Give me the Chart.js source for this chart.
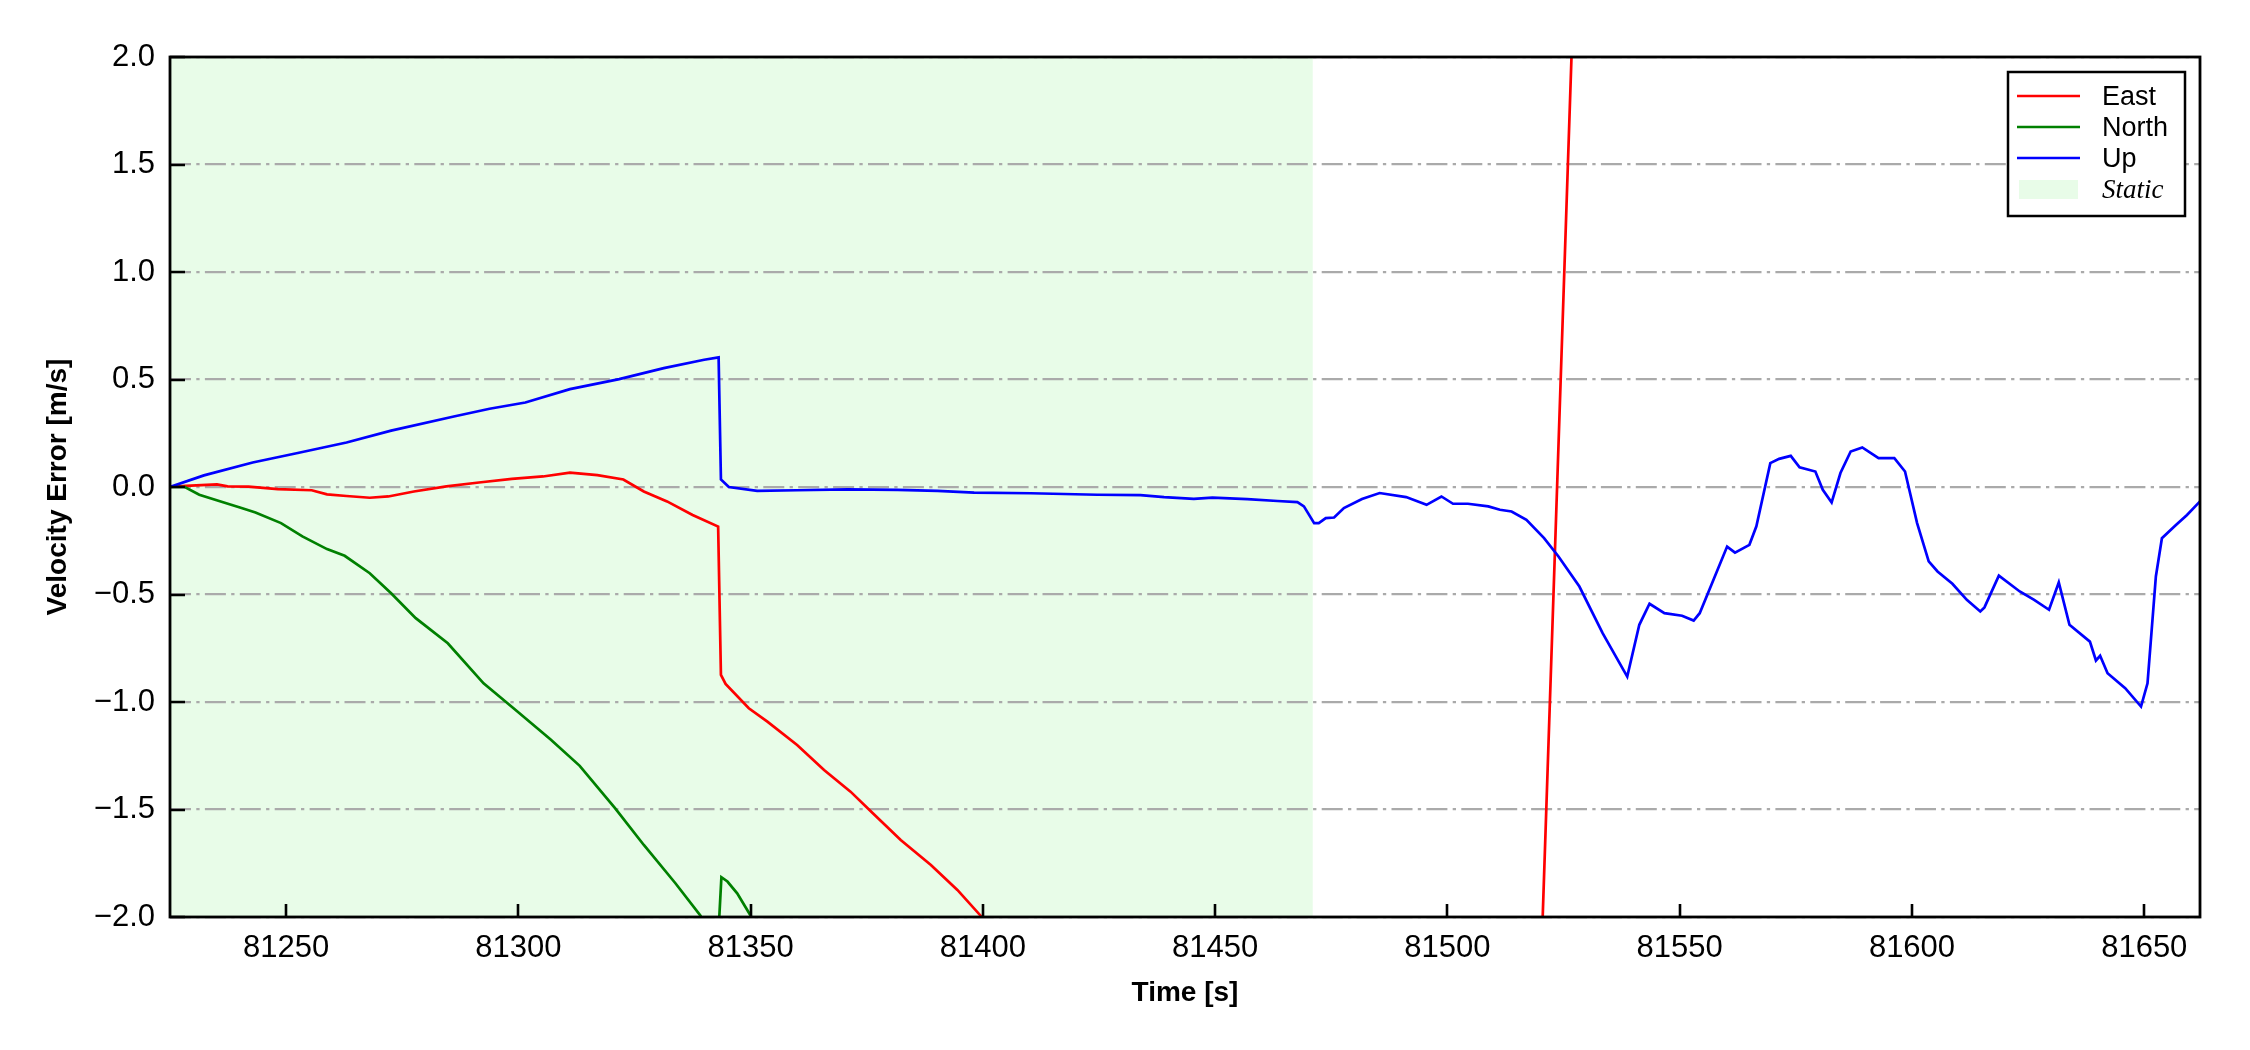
<!DOCTYPE html>
<html>
<head>
<meta charset="utf-8">
<script src="https://cdn.jsdelivr.net/npm/chart.js@4.4.0/dist/chart.umd.min.js"></script>
<style>
  html, body { margin: 0; padding: 0; background: #fff; }
  canvas { display: block; }
</style>
</head>
<body>
<canvas id="velErr" width="2250" height="1050"></canvas>
<script>
// axis layout
const xRange = [81225, 81662];
const yRange = [-2, 2];
const xTicks = [81250, 81300, 81350, 81400, 81450, 81500, 81550, 81600, 81650];
const yTicks = [-2, -1.5, -1, -0.5, 0, 0.5, 1, 1.5, 2];
const staticSpan = [81225, 81471];

// East velocity error (leaves the plot below -2 and comes back through it near 81520)
const eastT = [81225, 81228.4, 81235.1, 81237.4, 81241.9, 81248.2, 81255.5, 81258.8, 81263, 81268,
  81272, 81277.5, 81284.5, 81291.5, 81298.6, 81305.3, 81311.1, 81317, 81322.6, 81327,
  81332, 81337.5, 81343, 81343.6, 81344.6, 81349.6, 81353.6, 81360, 81365.8, 81371.5,
  81375.8, 81382.3, 81388.8, 81394.5, 81399.5, 81405, 81517.4, 81529.8];
const eastV = [0, 0.005, 0.012, 0.003, 0.002, -0.010, -0.015, -0.034, -0.042, -0.050,
  -0.044, -0.021, 0.003, 0.021, 0.038, 0.049, 0.067, 0.055, 0.035, -0.021,
  -0.067, -0.130, -0.184, -0.874, -0.916, -1.029, -1.091, -1.200, -1.316, -1.417,
  -1.507, -1.642, -1.758, -1.874, -1.994, -2.2, -4.0, 4.0];

// North velocity error
const northT = [81225, 81228.2, 81231.3, 81236.6, 81240.4, 81243.4, 81248.9, 81253.5, 81258.8, 81262.6,
  81268, 81272.6, 81277.9, 81284.8, 81292.5, 81299.4, 81307, 81313.2, 81320.8, 81327,
  81333.8, 81339.2, 81341, 81343, 81343.7, 81345, 81347.1, 81350, 81352];
const northV = [0, 0, -0.036, -0.072, -0.098, -0.119, -0.168, -0.230, -0.289, -0.320,
  -0.401, -0.494, -0.610, -0.727, -0.913, -1.037, -1.176, -1.297, -1.494, -1.665,
  -1.843, -1.994, -2.1, -2.1, -1.815, -1.835, -1.89, -1.994, -2.1];

// Up velocity error
const upT = [81225, 81232.3, 81242.8, 81252.5, 81263, 81272.6, 81286.1, 81293.8, 81301.5, 81311.1,
  81321.7, 81331.3, 81340, 81343.1, 81343.6, 81345.3, 81351.4, 81360, 81370.8, 81381.6,
  81390.2, 81398.1, 81410.3, 81424.6, 81433.9, 81439, 81445.4, 81449.4, 81456.9, 81463.4,
  81467.7, 81469.1, 81471.3, 81472.3, 81473.8, 81475.6, 81477.7, 81481.6, 81485.4, 81491.1,
  81495.5, 81498.7, 81501.2, 81504.4, 81508.8, 81511.3, 81513.8, 81517, 81520.8, 81523.9,
  81528.4, 81533.4, 81538.7, 81541.3, 81543.5, 81546.7, 81550.5, 81553, 81554.3, 81557.4,
  81560.2, 81561.9, 81565, 81566.5, 81569.5, 81571.4, 81573.9, 81575.8, 81579.2, 81580.8,
  81582.7, 81584.6, 81586.8, 81589.3, 81592.8, 81596.2, 81598.5, 81601.1, 81603.6, 81605.5,
  81608.7, 81611.8, 81614.7, 81615.6, 81618.7, 81623.2, 81626.3, 81629.5, 81631.6, 81633.9,
  81638.3, 81639.6, 81640.5, 81642.1, 81645.9, 81649.3, 81650.7, 81652.5, 81653.8, 81656.7,
  81659.2, 81662];
const upV = [0, 0.054, 0.114, 0.158, 0.207, 0.262, 0.328, 0.364, 0.393, 0.455,
  0.502, 0.553, 0.592, 0.603, 0.035, 0, -0.018, -0.015, -0.011, -0.013,
  -0.018, -0.026, -0.029, -0.036, -0.038, -0.047, -0.055, -0.049, -0.056, -0.065,
  -0.070, -0.090, -0.168, -0.168, -0.145, -0.142, -0.098, -0.056, -0.028, -0.047,
  -0.083, -0.044, -0.078, -0.078, -0.090, -0.106, -0.114, -0.153, -0.238, -0.323,
  -0.463, -0.680, -0.882, -0.641, -0.543, -0.587, -0.599, -0.621, -0.587, -0.424,
  -0.277, -0.305, -0.269, -0.183, 0.111, 0.131, 0.145, 0.092, 0.072, -0.013,
  -0.072, 0.065, 0.165, 0.184, 0.134, 0.134, 0.072, -0.168, -0.346, -0.393,
  -0.450, -0.525, -0.579, -0.560, -0.412, -0.486, -0.525, -0.571, -0.444, -0.641,
  -0.719, -0.807, -0.785, -0.866, -0.936, -1.021, -0.913, -0.416, -0.238, -0.179,
  -0.130, -0.067];

const STATIC_COLOR = '#e8fce8';
const sans = '"Liberation Sans", Arial, sans-serif';

const pts = (t, v) => t.map((x, i) => ({ x, y: v[i] }));
const fmtY = (v) => (v < 0 ? '\u2212' : '') + Math.abs(v).toFixed(1);

// shaded static period, under the grid
const staticShade = {
    id: 'staticShade',
    beforeDraw(chart) {
        const { ctx, chartArea: a, scales: { x } } = chart;
        const x0 = Math.max(a.left, x.getPixelForValue(staticSpan[0]));
        const x1 = Math.min(a.right, x.getPixelForValue(staticSpan[1]));
        ctx.save();
        ctx.fillStyle = STATIC_COLOR;
        ctx.fillRect(x0, a.top, x1 - x0, a.bottom - a.top);
        ctx.restore();
    },
};

// matplotlib-ish box frame with inward ticks
const frameTicks = {
    id: 'frameTicks',
    afterDatasetsDraw(chart) {
        const { ctx, chartArea: a, scales: { x, y } } = chart;
        ctx.save();
        ctx.strokeStyle = '#000';
        ctx.lineWidth = 2.6;
        ctx.beginPath();
        xTicks.forEach((v) => {
            const px = Math.round(x.getPixelForValue(v));
            ctx.moveTo(px, a.bottom);
            ctx.lineTo(px, a.bottom - 13);
        });
        yTicks.forEach((v) => {
            const py = Math.round(y.getPixelForValue(v));
            ctx.moveTo(a.left, py);
            ctx.lineTo(a.left + 15, py);
        });
        ctx.stroke();
        ctx.lineWidth = 2.8;
        ctx.strokeRect(a.left, a.top, a.right - a.left, a.bottom - a.top);
        ctx.restore();
    },
};

// legend box in the upper right corner of the plot
const insideLegend = {
    id: 'insideLegend',
    afterDraw(chart) {
        const { ctx, chartArea: a } = chart;
        const bx = a.right - 192, by = a.top + 15, bw = 177, bh = 144;
        ctx.save();
        ctx.fillStyle = '#fff';
        ctx.fillRect(bx, by, bw, bh);
        ctx.strokeStyle = '#000';
        ctx.lineWidth = 2.5;
        ctx.strokeRect(bx, by, bw, bh);
        ctx.textBaseline = 'middle';
        ctx.fillStyle = '#000';
        const rowY = (i) => by + 24 + i * 31;
        chart.data.datasets.forEach((ds, i) => {
            const cy = rowY(i);
            ctx.strokeStyle = ds.borderColor;
            ctx.lineWidth = 2.6;
            ctx.beginPath();
            ctx.moveTo(bx + 9, cy);
            ctx.lineTo(bx + 72, cy);
            ctx.stroke();
            ctx.font = '27px ' + sans;
            ctx.fillText(ds.label, bx + 94, cy + 2);
        });
        const cy = rowY(3);
        ctx.fillStyle = STATIC_COLOR;
        ctx.fillRect(bx + 11, cy - 9, 59, 19);
        ctx.fillStyle = '#000';
        ctx.font = 'italic 27px "Liberation Serif", "Times New Roman", serif';
        ctx.fillText('Static', bx + 94, cy + 2);
        ctx.restore();
    },
};

new Chart(document.getElementById('velErr'), {
    type: 'line',
    data: {
        datasets: [
            { label: 'East', data: pts(eastT, eastV), borderColor: '#ff0000', order: 3 },
            { label: 'North', data: pts(northT, northV), borderColor: '#008000', order: 2 },
            { label: 'Up', data: pts(upT, upV), borderColor: '#0000ff', order: 1 },
        ],
    },
    options: {
        responsive: false,
        devicePixelRatio: 1,
        animation: false,
        layout: { padding: { top: 57, right: 50, bottom: 0, left: 0 } },
        elements: {
            line: { borderWidth: 2.7, tension: 0 },
            point: { radius: 0, hoverRadius: 0 },
        },
        datasets: { line: { clip: 0 } },
        plugins: { legend: { display: false }, tooltip: { enabled: false } },
        scales: {
            x: {
                type: 'linear',
                min: xRange[0],
                max: xRange[1],
                afterBuildTicks: (s) => { s.ticks = xTicks.map((value) => ({ value })); },
                afterFit: (s) => { s.height = 133; },
                grid: { display: false, drawTicks: false },
                border: { display: false },
                ticks: {
                    autoSkip: false,
                    maxRotation: 0,
                    padding: 13,
                    color: '#000',
                    font: { family: sans, size: 31 },
                    callback: (v) => String(v),
                },
                title: {
                    display: true,
                    text: 'Time [s]',
                    color: '#000',
                    font: { family: sans, size: 28, weight: 'bold' },
                    padding: { top: 0, bottom: 40 },
                },
            },
            y: {
                min: yRange[0],
                max: yRange[1],
                afterBuildTicks: (s) => { s.ticks = yTicks.map((value) => ({ value })); },
                afterFit: (s) => { s.width = 170; },
                grid: { color: '#aaaaaa', lineWidth: 2.2, drawTicks: false },
                border: { display: false, dash: [21, 5.3, 3.3, 5.3] },
                ticks: {
                    padding: 15,
                    color: '#000',
                    font: { family: sans, size: 31 },
                    callback: (v) => fmtY(v),
                },
                title: {
                    display: true,
                    text: 'Velocity Error [m/s]',
                    color: '#000',
                    font: { family: sans, size: 28, weight: 'bold' },
                    padding: { top: 41, bottom: 0 },
                },
            },
        },
    },
    plugins: [staticShade, frameTicks, insideLegend],
});
</script>
</body>
</html>
